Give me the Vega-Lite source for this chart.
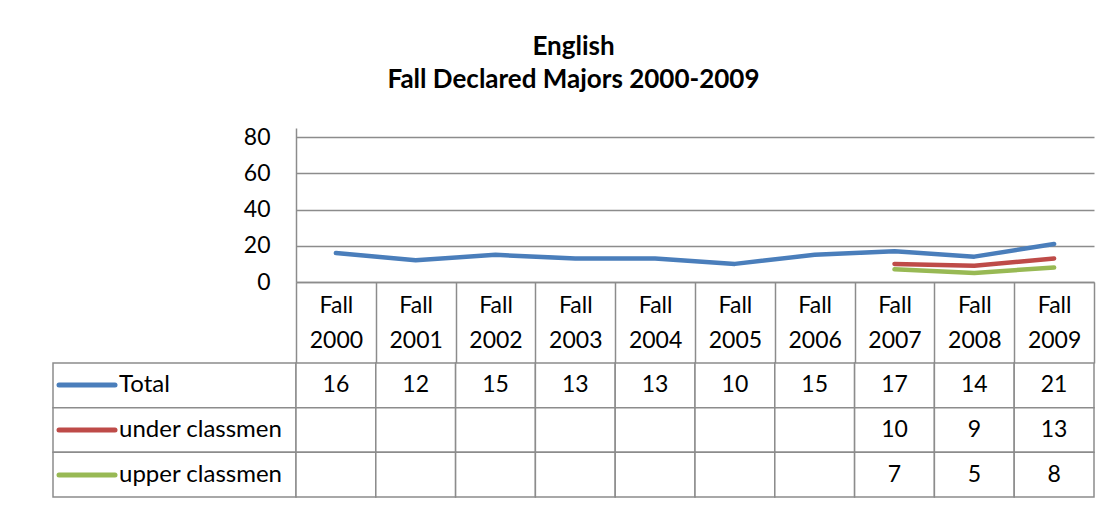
{
  "$schema": "https://vega.github.io/schema/vega-lite/v6.json",
  "background": "white",
  "autosize": {"type": "pad"},
  "padding": {"left": 52, "top": 34, "right": 22, "bottom": 9},
  "title": {
    "text": ["English", "Fall Declared Majors 2000-2009"],
    "font": "Lato",
    "fontSize": 26,
    "fontWeight": "bold",
    "lineHeight": 33,
    "anchor": "middle",
    "offset": 33,
    "color": "black"
  },
  "config": {
    "view": {"stroke": null},
    "font": "Lato"
  },
  "datasets": {
    "cells": [
      {"series": "Total", "year": "Fall 2000", "value": 16},
      {"series": "Total", "year": "Fall 2001", "value": 12},
      {"series": "Total", "year": "Fall 2002", "value": 15},
      {"series": "Total", "year": "Fall 2003", "value": 13},
      {"series": "Total", "year": "Fall 2004", "value": 13},
      {"series": "Total", "year": "Fall 2005", "value": 10},
      {"series": "Total", "year": "Fall 2006", "value": 15},
      {"series": "Total", "year": "Fall 2007", "value": 17},
      {"series": "Total", "year": "Fall 2008", "value": 14},
      {"series": "Total", "year": "Fall 2009", "value": 21},
      {"series": "under classmen", "year": "Fall 2000", "value": null},
      {"series": "under classmen", "year": "Fall 2001", "value": null},
      {"series": "under classmen", "year": "Fall 2002", "value": null},
      {"series": "under classmen", "year": "Fall 2003", "value": null},
      {"series": "under classmen", "year": "Fall 2004", "value": null},
      {"series": "under classmen", "year": "Fall 2005", "value": null},
      {"series": "under classmen", "year": "Fall 2006", "value": null},
      {"series": "under classmen", "year": "Fall 2007", "value": 10},
      {"series": "under classmen", "year": "Fall 2008", "value": 9},
      {"series": "under classmen", "year": "Fall 2009", "value": 13},
      {"series": "upper classmen", "year": "Fall 2000", "value": null},
      {"series": "upper classmen", "year": "Fall 2001", "value": null},
      {"series": "upper classmen", "year": "Fall 2002", "value": null},
      {"series": "upper classmen", "year": "Fall 2003", "value": null},
      {"series": "upper classmen", "year": "Fall 2004", "value": null},
      {"series": "upper classmen", "year": "Fall 2005", "value": null},
      {"series": "upper classmen", "year": "Fall 2006", "value": null},
      {"series": "upper classmen", "year": "Fall 2007", "value": 7},
      {"series": "upper classmen", "year": "Fall 2008", "value": 5},
      {"series": "upper classmen", "year": "Fall 2009", "value": 8}
    ]
  },
  "columns": 2,
  "spacing": {"row": 81, "column": 0},
  "bounds": "flush",
  "concat": [
    {
      "width": 243,
      "height": 154,
      "data": {"values": []},
      "mark": {"type": "point"}
    },
    {
      "width": 798,
      "height": 154,
      "data": {"name": "cells"},
      "mark": {"type": "line", "strokeWidth": 4.5, "strokeCap": "round", "strokeJoin": "round"},
      "encoding": {
        "x": {
          "field": "year",
          "type": "nominal",
          "sort": null,
          "scale": {"type": "band", "paddingInner": 0, "paddingOuter": 0},
          "axis": {
            "title": null,
            "orient": "bottom",
            "tickBand": "extent",
            "tickSize": 81,
            "tickColor": "#8c8c8c",
            "tickWidth": 1.5,
            "domainColor": "#8c8c8c",
            "domainWidth": 1.5,
            "labelExpr": "split(datum.label, ' ')",
            "labelFont": "Lato",
            "labelFontSize": 23,
            "labelColor": "black",
            "labelPadding": -69,
            "labelLineHeight": 35,
            "labelBaseline": "top",
            "labelAngle": 0,
            "labelOverlap": false,
            "labelBound": false,
            "labelFlush": false,
            "grid": false
          }
        },
        "y": {
          "field": "value",
          "type": "quantitative",
          "scale": {"domain": [0, 85], "nice": false},
          "axis": {
            "title": null,
            "values": [0, 20, 40, 60, 80],
            "grid": true,
            "gridColor": "#8c8c8c",
            "gridWidth": 1.5,
            "ticks": false,
            "domainColor": "#8c8c8c",
            "domainWidth": 1.5,
            "labelFont": "Lato",
            "labelFontSize": 23,
            "labelColor": "black",
            "labelPadding": 26
          }
        },
        "color": {
          "field": "series",
          "type": "nominal",
          "scale": {
            "domain": ["Total", "under classmen", "upper classmen"],
            "range": ["#4a7ebb", "#be4b48", "#98b954"]
          },
          "legend": {
            "orient": "none",
            "legendX": 22,
            "legendY": 245,
            "title": null,
            "direction": "vertical",
            "symbolType": "M-4,0H4",
            "symbolSize": 196,
            "symbolStrokeWidth": 5,
            "labelFont": "Lato",
            "labelFontSize": 24,
            "labelColor": "black",
            "labelOffset": 20,
            "labelLimit": 400,
            "rowPadding": 21,
            "padding": 0,
            "encode": {"symbols": {"update": {"strokeCap": {"value": "round"}}}}
          }
        }
      }
    },
    {
      "width": 243,
      "height": 134,
      "data": {"name": "cells"},
      "transform": [{"filter": "datum.year == 'Fall 2000'"}],
      "mark": {"type": "rect", "fill": "white", "stroke": "#8c8c8c", "strokeWidth": 1.5},
      "encoding": {
        "y": {
          "field": "series",
          "type": "nominal",
          "sort": ["Total", "under classmen", "upper classmen"],
          "scale": {"paddingInner": 0, "paddingOuter": 0},
          "axis": null
        }
      }
    },
    {
      "width": 798,
      "height": 134,
      "data": {"name": "cells"},
      "encoding": {
        "x": {
          "field": "year",
          "type": "nominal",
          "sort": null,
          "scale": {"paddingInner": 0, "paddingOuter": 0},
          "axis": null
        },
        "y": {
          "field": "series",
          "type": "nominal",
          "sort": ["Total", "under classmen", "upper classmen"],
          "scale": {"paddingInner": 0, "paddingOuter": 0},
          "axis": null
        }
      },
      "layer": [
        {"mark": {"type": "rect", "fill": "white", "stroke": "#8c8c8c", "strokeWidth": 1.5}},
        {
          "transform": [{"filter": "isValid(datum.value)"}],
          "mark": {"type": "text", "font": "Lato", "fontSize": 23, "color": "black"},
          "encoding": {"text": {"field": "value", "type": "quantitative"}}
        }
      ]
    }
  ]
}
